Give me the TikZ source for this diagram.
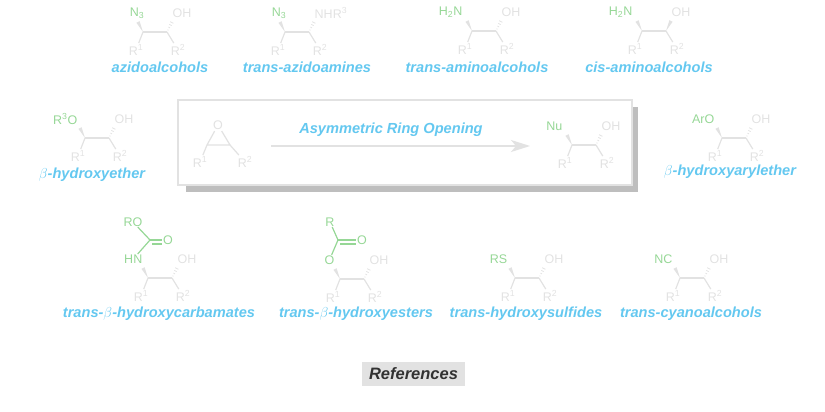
\documentclass[tikz,border=0pt]{standalone}
\usepackage{fontspec}
\setmainfont{Liberation Sans}
\usetikzlibrary{calc,arrows.meta}

\definecolor{skyblue}{RGB}{100,200,240}
\definecolor{mintgreen}{RGB}{150,215,150}
\definecolor{palegray}{RGB}{226,226,226}
\definecolor{shadowgray}{RGB}{190,190,190}
\definecolor{inkgray}{RGB}{50,50,50}

\newcommand{\chemfont}{\fontsize{12.5}{13}\selectfont}
\newcommand{\namefont}{\fontsize{14.6}{16}\selectfont\bfseries\itshape}

% wedge bonds
\newcommand{\wedgebond}[2]{\fill[palegray] (#1) -- ($(#2)!1.8pt!90:(#1)$) -- ($(#2)!1.8pt!-90:(#1)$) -- cycle;}
\newcommand{\hashbond}[2]{\foreach \hp/\hw in {0.2/0.5,0.45/0.9,0.7/1.3,0.95/1.8}{\draw[palegray, line width=0.8pt] ($(#1)!\hp!(#2)!\hw pt!90:(#2)$) -- ($(#1)!\hp!(#2)!\hw pt!-90:(#2)$);}}

% skeleton: name, C1 x, C1 y, left group, left shift, right group, right bond
\newcommand{\diol}[7]{%
  \coordinate (#1c1) at (#2,#3);
  \coordinate (#1c2) at ({#2+24},#3);
  \coordinate (#1w1) at ({#2-5},{#3-10});
  \coordinate (#1w2) at ({#2+29},{#3-10});
  \node[grp, anchor=east] (#1l) at ({#2+(#5)},{#3-19}) {#4};
  \node[atom, anchor=west] (#1r) at ({#2+28},{#3-19}) {#6};
  \node[atom] (#1a) at ({#2-7},{#3+18}) {R\textsuperscript{1}};
  \node[atom] (#1b) at ({#2+35},{#3+18}) {R\textsuperscript{2}};
  \draw[bond] (#1c1) -- (#1c2);
  \draw[bond] (#1c1) -- (#1a);
  \draw[bond] (#1c2) -- (#1b);
  \wedgebond{#1c1}{#1w1}
  #7{#1c2}{#1w2}
}

\begin{document}
\begin{tikzpicture}[
    x=1pt, y=-1pt,
    atom/.style={text=palegray, font=\chemfont, inner sep=1.5pt},
    grp/.style={text=mintgreen, font=\chemfont, inner sep=0.5pt},
    bond/.style={draw=palegray, line width=1.2pt},
    gbond/.style={draw=mintgreen, line width=1.2pt},
    cmpd/.style={text=skyblue, font=\namefont, inner sep=1pt},
    arrow/.style={draw=palegray, line width=1.4pt, -{Stealth[length=19pt, width=12pt, inset=5pt]}},
    ]
    \useasboundingbox (0,0) rectangle (825,412);

    % Top row
    \diol{az}{143}{32}{N\textsubscript{3}}{2}{OH}{\hashbond}
    \node[cmpd] (azlbl) at (160,67) {azidoalcohols};
    \diol{aa}{285}{32}{N\textsubscript{3}}{2}{NHR\textsuperscript{3}}{\hashbond}
    \node[cmpd] (aalbl) at (307,67) {trans-azidoamines};
    \diol{ta}{472}{31}{H\textsubscript{2}N}{-9}{OH}{\hashbond}
    \node[cmpd] (talbl) at (477,67) {trans-aminoalcohols};
    \diol{ca}{642}{31}{H\textsubscript{2}N}{-9}{OH}{\wedgebond}
    \node[cmpd] (calbl) at (649,67) {cis-aminoalcohols};

    % Middle row
    \diol{he}{85}{138}{R\textsuperscript{3}O}{-7}{OH}{\hashbond}
    \node[cmpd] (helbl) at (92,175) {$\beta$-hydroxyether};
    \diol{ae}{722}{138}{ArO}{-7}{OH}{\hashbond}
    \node[cmpd] (aelbl) at (730,172) {$\beta$-hydroxyarylether};

    % Ring opening panel
    \fill[shadowgray] (186,107) rectangle (638,192);
    \node[draw=palegray, line width=2pt, fill=white, minimum width=454pt, minimum height=85pt] (panel) at (405,142.5) {};
    \node[atom] (epo) at (218,125) {O};
    \coordinate (ep1) at (207,145);
    \coordinate (ep2) at (230,145);
    \node[atom] (epa) at (200,162) {R\textsuperscript{1}};
    \node[atom] (epb) at (245,162) {R\textsuperscript{2}};
    \draw[bond] (ep1) -- (epo) -- (ep2) -- (ep1);
    \draw[bond] (ep1) -- (epa);
    \draw[bond] (ep2) -- (epb);
    \coordinate (arrA) at (271,146);
    \coordinate (arrB) at (530,146);
    \draw[arrow] (arrA) -- (arrB);
    \node[cmpd] (title) at (391,130) {Asymmetric Ring Opening};
    \diol{nu}{572}{145}{Nu}{-9}{OH}{\hashbond}

    % Bottom row
    \diol{cb}{148}{278}{HN}{-5}{OH}{\hashbond}
    \node[grp] (cbro) at (133,222) {RO};
    \coordinate (cbc) at (150,240);
    \node[grp] (cbo) at (168,240) {O};
    \draw[gbond] (cbl) -- (cbc) -- (cbro);
    \draw[gbond] (cbc) -- (cbo.west);
    \draw[gbond] ($(cbc)+(2,4)$) -- ($(cbo.west)+(0,4)$);
    \node[cmpd] (cblbl) at (159,314) {trans-$\beta$-hydroxycarbamates};

    \diol{es}{340}{279}{O}{-5}{OH}{\hashbond}
    \node[grp] (esr) at (330,222) {R};
    \coordinate (esc) at (338,240);
    \node[grp] (eso) at (362,240) {O};
    \draw[gbond] (esl) -- (esc) -- (esr);
    \draw[gbond] (esc) -- (eso.west);
    \draw[gbond] ($(esc)+(2,4)$) -- ($(eso.west)+(0,4)$);
    \node[cmpd] (eslbl) at (356,314) {trans-$\beta$-hydroxyesters};

    \diol{sf}{515}{278}{RS}{-7}{OH}{\hashbond}
    \node[cmpd] (sflbl) at (526,314) {trans-hydroxysulfides};
    \diol{cn}{680}{278}{NC}{-7}{OH}{\hashbond}
    \node[cmpd] (cnlbl) at (691,314) {trans-cyanoalcohols};

    % References
    \node[fill=palegray, text=inkgray, font=\fontsize{16.5}{18}\selectfont\bfseries\itshape, minimum width=103pt, minimum height=24pt, inner sep=0pt] (refs) at (413.5,374) {References};
\end{tikzpicture}
\end{document}
